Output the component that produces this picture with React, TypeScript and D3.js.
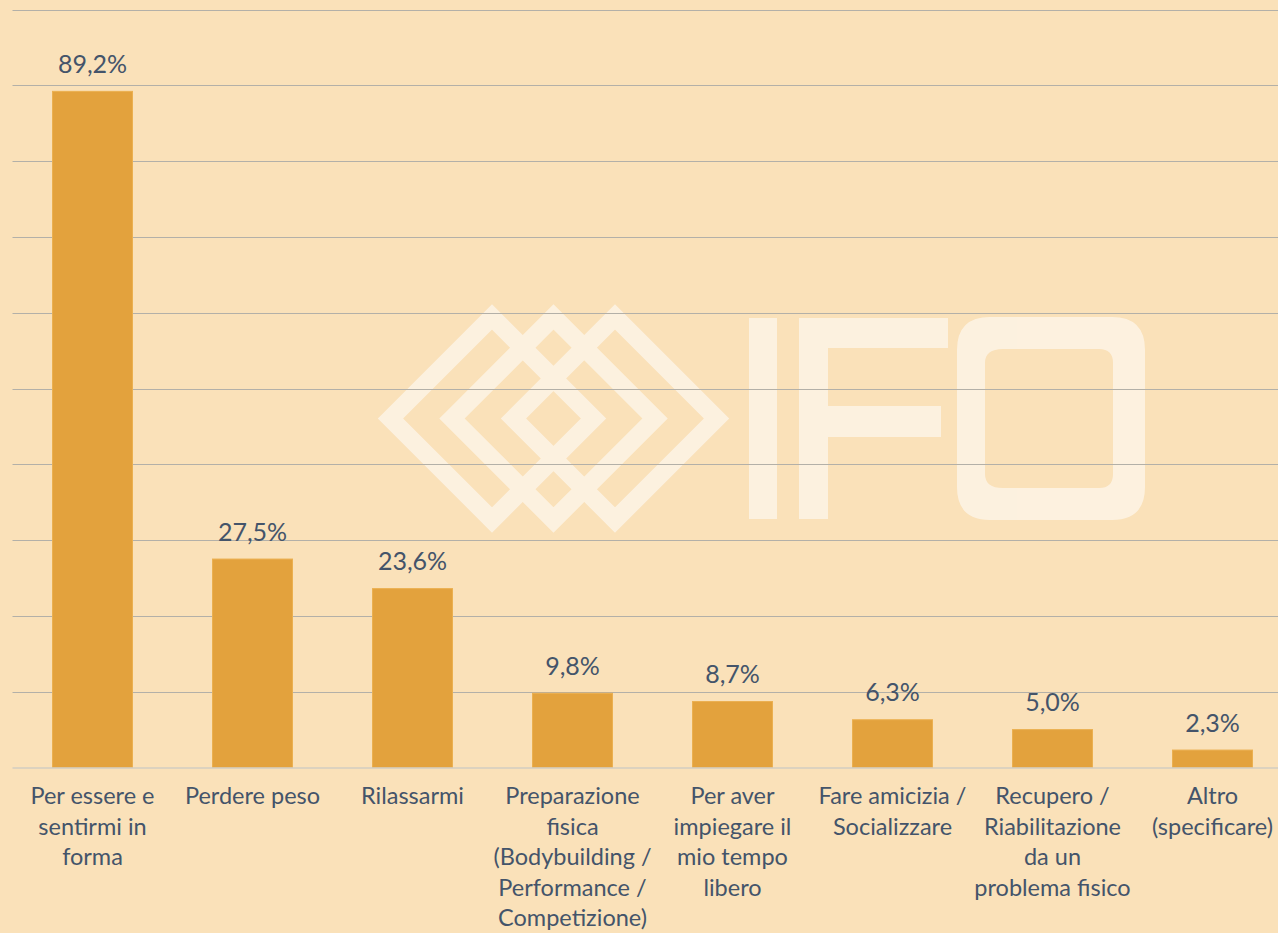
import React from "react";
import * as d3 from "d3";

const categories = [
  "Per essere e sentirmi in forma",
  "Perdere peso",
  "Rilassarmi",
  "Preparazione fisica (Bodybuilding / Performance / Competizione)",
  "Per aver impiegare il mio tempo libero",
  "Fare amicizia / Socializzare",
  "Recupero / Riabilitazione da un problema fisico",
  "Altro (specificare)",
];
const categoryLines = [
  ["Per essere e", "sentirmi in", "forma"],
  ["Perdere peso"],
  ["Rilassarmi"],
  ["Preparazione", "fisica", "(Bodybuilding /", "Performance /", "Competizione)"],
  ["Per aver", "impiegare il", "mio tempo", "libero"],
  ["Fare amicizia /", "Socializzare"],
  ["Recupero /", "Riabilitazione", "da un", "problema fisico"],
  ["Altro", "(specificare)"],
];
const values = [89.2, 27.5, 23.6, 9.8, 8.7, 6.3, 5.0, 2.3];
const gridTicks = [10, 20, 30, 40, 50, 60, 70, 80, 90, 100];

const W = 1278;
const H = 933;
const FONT = "Lato, 'Open Sans', sans-serif";
const TEXT = "#44546A";

export default function App() {
  const x = d3.scaleBand<string>().domain(categories).range([12.5, 12.5 + 160 * categories.length]).padding(0.5).paddingOuter(0.25);
  const y = d3.scaleLinear().domain([0, 100]).range([767.5, 9.5]);
  const fmt = (v: number) => v.toFixed(1).replace(".", ",") + "%";

  // watermark diamonds
  const dCenters = [492, 553.5, 615];
  const dcy = 418.5;
  const half = 114 - 12.5;
  const diamond = (cx: number) =>
    `M${cx - half},${dcy} L${cx},${dcy - half} L${cx + half},${dcy} L${cx},${dcy + half} Z`;

  return (
    <svg width={W} height={H} style={{ position: "absolute", left: 0, top: 0, background: "#FAE1B9" }} fontFamily={FONT}>
      <rect x={0} y={0} width={W} height={H} fill="#FAE1B9" />
      <g opacity={0.55}>
        {dCenters.map((c, i) => (
          <path key={i} d={diamond(c)} fill="none" stroke="#FFFFFF" strokeWidth={18} strokeLinejoin="miter" />
        ))}
        <rect x={749} y={318} width={28} height={201} fill="#fff" />
        <path d="M799,318 H948 V348 H828 V406 H941 V437 H828 V519 H799 Z" fill="#fff" />
        <path
          fillRule="evenodd"
          fill="#fff"
          d="M990,317 H1112 Q1145,317 1145,350 V487 Q1145,520 1112,520 H990 Q957,520 957,487 V350 Q957,317 990,317 Z M1003,349 H1099 Q1113,349 1113,363 V474 Q1113,488 1099,488 H1003 Q985,488 985,474 V363 Q985,349 1003,349 Z"
        />
      </g>
      {gridTicks.map((t) => (
        <line key={t} x1={12.5} x2={W} y1={Math.round(y(t)) + 0.5} y2={Math.round(y(t)) + 0.5} stroke="#B3B0A8" strokeWidth={1} />
      ))}
      {categories.map((c, i) => (
        <rect
          key={c}
          x={x(c)!}
          y={y(values[i])}
          width={x.bandwidth()}
          height={y(0) - y(values[i])}
          fill="#E3A23D"
          stroke="#EBB050"
          strokeWidth={1}
        />
      ))}
      <line x1={12.5} x2={W} y1={768} y2={768} stroke="#D2CCC2" strokeWidth={1.5} />
      {categories.map((c, i) => (
        <text
          key={"v" + c}
          x={x(c)! + x.bandwidth() / 2}
          y={y(values[i]) - 18.5}
          textAnchor="middle"
          fontSize={25}
          fill={TEXT}
        >
          {fmt(values[i])}
        </text>
      ))}
      {categories.map((c, i) => (
        <text key={"c" + c} x={x(c)! + x.bandwidth() / 2} y={804} textAnchor="middle" fontSize={23.5} fill={TEXT}>
          {categoryLines[i].map((l, j) => (
            <tspan key={j} x={x(c)! + x.bandwidth() / 2} y={804 + j * 30.6}>
              {l}
            </tspan>
          ))}
        </text>
      ))}
    </svg>
  );
}
